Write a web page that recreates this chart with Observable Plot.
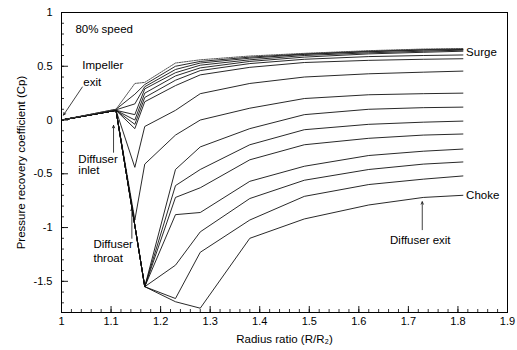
<!DOCTYPE html>
<html><head><meta charset="utf-8">
<script src="https://cdn.jsdelivr.net/npm/d3@7"></script>
<script src="https://cdn.jsdelivr.net/npm/@observablehq/plot@0.6"></script>
<style>body{margin:0;background:#fff} svg{display:block}</style>
</head><body><div id="chart"></div>
<script>
// Radius ratio (R/R2) of the pressure taps
const radiusRatio = [1.0, 1.11, 1.148, 1.168, 1.23, 1.28, 1.38, 1.49, 1.62, 1.73, 1.81];

// Cp for each operating point, from surge (top) to choke (bottom)
const cpSurge1 = [0, 0.10, 0.34, 0.35, 0.53, 0.56, 0.595, 0.62, 0.645, 0.66, 0.665];
const cpOp2  = [0, 0.10, 0.24, 0.33, 0.50, 0.545, 0.585, 0.615, 0.64, 0.655, 0.66];
const cpOp3  = [0, 0.095, 0.15, 0.31, 0.47, 0.53, 0.575, 0.61, 0.635, 0.65, 0.655];
const cpOp4  = [0, 0.09, 0.05, 0.29, 0.44, 0.51, 0.56, 0.60, 0.625, 0.64, 0.65];
const cpOp5  = [0, 0.09, 0.0, 0.25, 0.41, 0.485, 0.545, 0.585, 0.615, 0.63, 0.64];
const cpOp6  = [0, 0.09, -0.04, 0.21, 0.37, 0.46, 0.525, 0.565, 0.59, 0.60, 0.605];
const cpOp7  = [0, 0.09, -0.08, 0.17, 0.32, 0.42, 0.49, 0.535, 0.555, 0.565, 0.57];
const cpOp8  = [0, 0.09, -0.44, -0.06, 0.09, 0.245, 0.34, 0.40, 0.43, 0.445, 0.455];
const cpOp9  = [0, 0.09, -0.93, -0.41, -0.14, 0.0, 0.11, 0.20, 0.235, 0.245, 0.25];
const cpOp10 = [0, 0.09, -0.98, -1.55, -0.46, -0.25, -0.08, 0.05, 0.10, 0.115, 0.12];
const cpOp11 = [0, 0.09, -0.98, -1.55, -0.61, -0.46, -0.23, -0.09, -0.04, -0.02, -0.01];
const cpOp12 = [0, 0.09, -0.98, -1.55, -0.72, -0.63, -0.37, -0.23, -0.17, -0.14, -0.13];
const cpOp13 = [0, 0.09, -0.98, -1.55, -0.88, -0.86, -0.57, -0.43, -0.33, -0.29, -0.27];
const cpOp14 = [0, 0.09, -0.98, -1.55, -1.35, -1.04, -0.73, -0.56, -0.46, -0.41, -0.39];
const cpOp15 = [0, 0.09, -0.98, -1.55, -1.66, -1.23, -0.93, -0.71, -0.60, -0.55, -0.52];
const cpChoke = [0, 0.09, -0.98, -1.55, -1.69, -1.75, -1.10, -0.92, -0.79, -0.72, -0.70];

const xTickValues = [1, 1.1, 1.2, 1.3, 1.4, 1.5, 1.6, 1.7, 1.8, 1.9];
const xTickLabels = ["1", "1.1", "1.2", "1.3", "1.4", "1.5", "1.6", "1.7", "1.8", "1.9"];
const yTickValues = [-1.5, -1, -0.5, 0, 0.5, 1];
const yTickLabels = ["-1.5", "-1", "-0.5", "0", "0.5", "1"];
const xMinorTicks = d3.range(0, 46).map(i => 1 + i * 0.02);
const yMinorTicks = d3.range(-17, 11).map(i => i / 10);

const annotationLabels = ["80% speed", "Impeller", "exit", "Diffuser", "inlet", "Diffuser", "throat", "Surge", "Choke", "Diffuser exit"];
const annotationX = [1.028, 1.042, 1.044, 1.034, 1.034, 1.0645, 1.0645, 1.8165, 1.8165, 1.663];
const annotationY = [0.846, 0.511, 0.353, -0.362, -0.47, -1.152, -1.283, 0.632, -0.697, -1.115];

const arrowX1 = [1.042, 1.105, 1.142, 1.728];
const arrowY1 = [0.307, -0.30, -1.10, -1.02];
const arrowX2 = [1.004, 1.105, 1.142, 1.728];
const arrowY2 = [0.046, -0.05, -0.82, -0.76];

const seriesList = [
  ["surge1", cpSurge1], ["op2", cpOp2], ["op3", cpOp3], ["op4", cpOp4], ["op5", cpOp5],
  ["op6", cpOp6], ["op7", cpOp7], ["op8", cpOp8], ["op9", cpOp9], ["op10", cpOp10],
  ["op11", cpOp11], ["op12", cpOp12], ["op13", cpOp13], ["op14", cpOp14], ["op15", cpOp15],
  ["choke", cpChoke]
];
const rows = seriesList.flatMap(([name, vals]) => radiusRatio.map((x, i) => ({series: name, x, cp: vals[i]})));
const annotations = annotationLabels.map((label, i) => ({label, x: annotationX[i], y: annotationY[i]}));
const arrows = arrowX1.map((x1, i) => ({x1, y1: arrowY1[i], x2: arrowX2[i], y2: arrowY2[i]}));

const W = 517, H = 350, mL = 61, mR = 10, mT = 12, mB = 38;
const pw = W - mL - mR, ph = H - mT - mB;

const chart = Plot.plot({
  width: W, height: H,
  marginLeft: mL, marginRight: mR, marginTop: mT, marginBottom: mB,
  x: {domain: [1, 1.9]},
  y: {domain: [-1.79, 1]},
  style: {fontFamily: "'Liberation Sans', Arial, sans-serif", fontSize: "11px", color: "#000", background: "#fff"},
  marks: [
    Plot.axisX({ticks: xTickValues, tickSize: 0, tickPadding: 5, label: null,
      tickFormat: d => xTickLabels[xTickValues.indexOf(d)]}),
    Plot.axisY({ticks: yTickValues, tickSize: 0, tickPadding: 9, label: null,
      tickFormat: d => yTickLabels[yTickValues.indexOf(d)]}),
    Plot.tickX(xMinorTicks, {x: d => d, insetTop: ph - 3, stroke: "#000", strokeWidth: 0.8}),
    Plot.tickX(xTickValues, {x: d => d, insetTop: ph - 6, stroke: "#000", strokeWidth: 0.9}),
    Plot.tickY(yMinorTicks, {y: d => d, insetRight: pw - 3, stroke: "#000", strokeWidth: 0.8}),
    Plot.tickY(yTickValues, {y: d => d, insetRight: pw - 7, stroke: "#000", strokeWidth: 0.9}),
    Plot.line(rows.filter(d => d.series !== "surge1"), {x: "x", y: "cp", z: "series", stroke: "#111", strokeWidth: 0.9}),
    Plot.line(rows.filter(d => d.series === "surge1"), {x: "x", y: "cp", z: "series", stroke: "#444", strokeWidth: 0.9, strokeDasharray: "1.5,1"}),
    Plot.arrow(arrows, {x1: "x1", y1: "y1", x2: "x2", y2: "y2", stroke: "#111", strokeWidth: 0.8, headLength: 5, headAngle: 50}),
    Plot.text(annotations, {x: "x", y: "y", text: "label", textAnchor: "start", fontSize: 11.5, fill: "#000"}),
    Plot.text(["Pressure recovery coefficient (Cp)"], {text: d => d, frameAnchor: "left", dx: -40, rotate: -90, textAnchor: "middle", lineAnchor: "middle", fontSize: 11.5, fill: "#000"}),
    Plot.text(["Radius ratio (R/R₂)"], {text: d => d, frameAnchor: "bottom", dy: 27, textAnchor: "middle", lineAnchor: "middle", fontSize: 11.5, fill: "#000"}),
    Plot.frame({stroke: "#000", strokeWidth: 1})
  ]
});
document.getElementById("chart").appendChild(chart);
</script>
</body></html>
